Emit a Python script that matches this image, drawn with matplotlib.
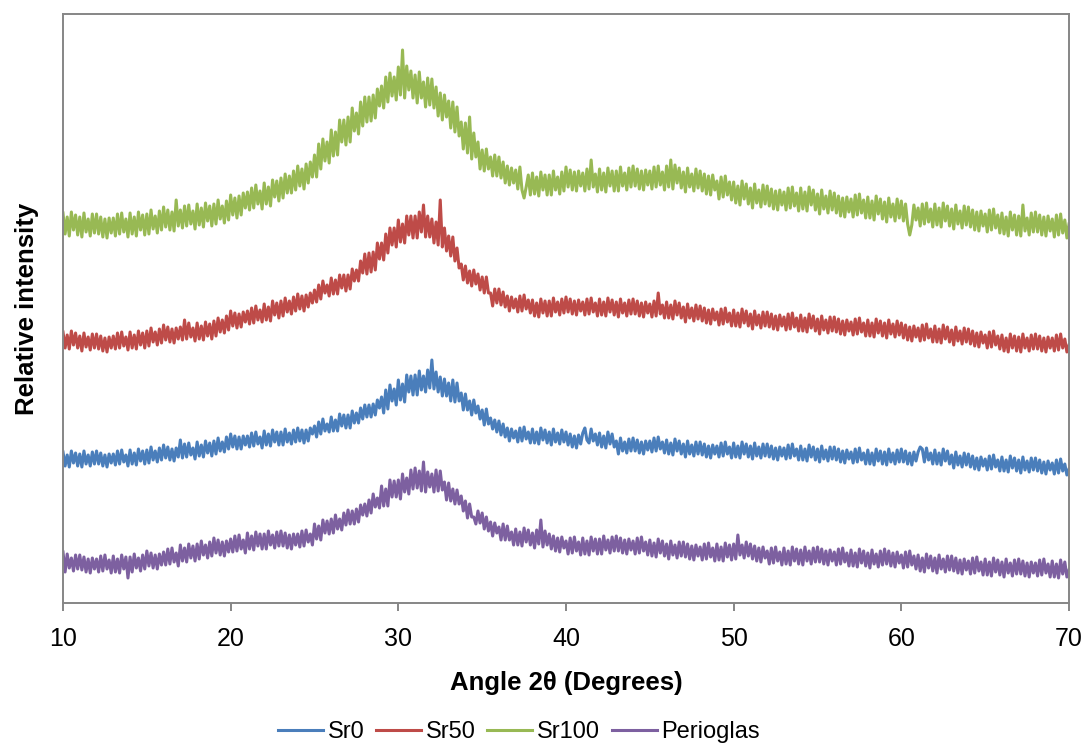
import numpy as np
import matplotlib
matplotlib.use("Agg")
import matplotlib.pyplot as plt

plt.rcParams['font.family'] = ['Liberation Sans', 'DejaVu Sans']

# x grid: 10 to 70 degrees, 0.125 deg step (one row per degree)
angle_start, angle_stop, angle_step = 10.0, 70.0, 0.125

sr100 = [
    390, 369, 386, 367, 391, 373, 388, 368,
    386, 366, 390, 371, 384, 367, 389, 370,
    389, 369, 386, 366, 384, 365, 385, 370,
    385, 367, 389, 369, 390, 371, 384, 366,
    390, 369, 386, 367, 391, 373, 388, 368,
    389, 369, 393, 374, 387, 370, 392, 373,
    396, 376, 393, 373, 391, 372, 403, 377,
    393, 375, 397, 377, 398, 379, 392, 374,
    399, 378, 395, 376, 400, 382, 397, 377,
    399, 379, 403, 384, 397, 380, 402, 383,
    408, 388, 405, 385, 407, 388, 410, 395,
    411, 393, 415, 395, 418, 399, 412, 394,
    420, 399, 416, 397, 423, 406, 422, 402,
    425, 405, 429, 410, 427, 410, 432, 413,
    437, 417, 434, 414, 439, 420, 441, 426,
    448, 426, 459, 434, 464, 442, 461, 440,
    473, 447, 471, 448, 483, 461, 483, 458,
    486, 461, 495, 472, 490, 469, 501, 477,
    506, 481, 506, 482, 508, 485, 514, 497,
    517, 495, 526, 501, 530, 507, 526, 503,
    536, 508, 553, 505, 537, 513, 532, 505,
    528, 500, 531, 505, 521, 496, 525, 498,
    524, 495, 516, 487, 510, 483, 508, 486,
    502, 475, 501, 471, 496, 467, 481, 454,
    480, 450, 486, 444, 470, 446, 461, 434,
    453, 432, 454, 434, 446, 427, 448, 427,
    446, 425, 441, 420, 437, 418, 435, 420,
    433, 414, 436, 413, 405, 416, 428, 408,
    430, 409, 426, 407, 431, 413, 428, 408,
    428, 408, 432, 413, 426, 409, 431, 412,
    436, 416, 433, 413, 431, 412, 432, 417,
    430, 412, 434, 414, 443, 416, 429, 411,
    434, 413, 430, 411, 435, 417, 432, 412,
    432, 412, 436, 417, 430, 413, 435, 416,
    437, 417, 434, 414, 432, 413, 433, 418,
    432, 414, 436, 416, 437, 418, 431, 413,
    437, 416, 443, 414, 438, 420, 435, 415,
    431, 411, 435, 416, 429, 412, 434, 415,
    432, 412, 429, 409, 427, 408, 428, 413,
    422, 404, 426, 406, 427, 408, 421, 403,
    421, 400, 417, 398, 422, 404, 419, 399,
    415, 395, 419, 400, 413, 396, 418, 399,
    417, 397, 414, 394, 412, 393, 413, 398,
    411, 393, 415, 395, 416, 397, 410, 392,
    415, 394, 411, 392, 416, 398, 413, 393,
    409, 389, 413, 394, 407, 390, 412, 393,
    410, 390, 407, 387, 405, 386, 406, 391,
    404, 386, 408, 388, 409, 390, 403, 385,
    406, 385, 402, 383, 407, 389, 404, 384,
    401, 381, 405, 386, 399, 382, 404, 385,
    402, 382, 399, 379, 368, 378, 398, 383,
    395, 377, 399, 379, 400, 381, 394, 376,
    399, 378, 395, 376, 400, 382, 397, 377,
    394, 374, 398, 379, 392, 375, 397, 378,
    396, 376, 393, 373, 391, 372, 392, 377,
    389, 371, 393, 373, 394, 375, 388, 370,
    390, 369, 386, 367, 391, 373, 388, 368,
    387, 367, 398, 372, 385, 368, 390, 371,
    391, 371, 388, 368, 386, 367, 387, 372,
    384, 366, 388, 368, 389, 370, 383, 365,
    379,
]

sr50 = [
    271, 255, 268, 254, 272, 258, 270, 255,
    267, 252, 270, 256, 266, 253, 269, 255,
    269, 254, 267, 252, 265, 251, 266, 255,
    267, 254, 270, 255, 271, 257, 266, 253,
    271, 255, 268, 254, 272, 258, 270, 255,
    272, 257, 275, 261, 271, 258, 274, 260,
    278, 263, 276, 261, 274, 260, 275, 264,
    276, 263, 283, 264, 280, 266, 275, 262,
    280, 264, 277, 263, 281, 267, 279, 264,
    282, 267, 285, 271, 283, 270, 287, 273,
    292, 277, 290, 275, 289, 276, 291, 281,
    292, 279, 295, 280, 297, 283, 293, 281,
    299, 283, 296, 282, 302, 288, 300, 285,
    302, 287, 305, 291, 302, 289, 306, 292,
    309, 294, 307, 292, 308, 296, 310, 300,
    313, 301, 318, 304, 322, 310, 318, 307,
    325, 309, 323, 309, 328, 315, 328, 312,
    328, 314, 334, 322, 333, 322, 342, 330,
    349, 329, 350, 331, 351, 333, 360, 344,
    360, 343, 369, 350, 375, 358, 375, 356,
    383, 361, 379, 360, 387, 368, 387, 365,
    387, 365, 391, 371, 398, 366, 387, 366,
    384, 360, 381, 358, 403, 356, 375, 352,
    367, 347, 366, 342, 355, 335, 339, 323,
    337, 320, 332, 317, 333, 319, 329, 313,
    326, 310, 326, 310, 310, 297, 314, 300,
    314, 298, 311, 296, 307, 292, 306, 295,
    304, 291, 307, 292, 308, 294, 303, 290,
    303, 287, 300, 286, 304, 290, 302, 287,
    302, 287, 305, 291, 301, 288, 304, 290,
    306, 291, 304, 289, 302, 288, 303, 292,
    301, 288, 304, 289, 305, 291, 300, 287,
    304, 288, 301, 287, 305, 291, 303, 288,
    301, 286, 304, 290, 300, 287, 303, 289,
    304, 289, 302, 287, 300, 286, 301, 290,
    299, 286, 302, 287, 310, 289, 298, 285,
    301, 285, 298, 284, 302, 288, 300, 285,
    296, 281, 299, 285, 295, 282, 298, 284,
    297, 282, 295, 280, 293, 279, 294, 283,
    291, 278, 294, 279, 295, 281, 290, 277,
    293, 277, 290, 276, 294, 280, 292, 277,
    289, 274, 292, 278, 288, 275, 291, 277,
    291, 276, 289, 274, 287, 273, 288, 277,
    286, 273, 289, 274, 290, 276, 285, 272,
    288, 272, 285, 271, 289, 275, 287, 272,
    284, 269, 287, 273, 283, 270, 286, 272,
    286, 271, 284, 269, 282, 268, 283, 272,
    281, 268, 284, 269, 285, 271, 280, 267,
    283, 267, 280, 266, 284, 270, 282, 267,
    280, 265, 283, 269, 279, 266, 282, 268,
    280, 265, 278, 263, 276, 262, 277, 266,
    275, 262, 278, 263, 279, 265, 274, 261,
    277, 261, 274, 260, 278, 264, 276, 261,
    273, 258, 276, 262, 272, 259, 275, 261,
    274, 259, 272, 257, 270, 256, 271, 260,
    268, 255, 271, 256, 272, 258, 267, 254,
    268, 252, 265, 251, 269, 255, 267, 252,
    266, 251, 269, 255, 265, 252, 268, 254,
    269, 254, 267, 252, 265, 251, 266, 255,
    265, 252, 268, 253, 269, 255, 264, 251,
    258,
]

sr0 = [
    151, 137, 148, 136, 152, 140, 150, 137,
    149, 136, 152, 139, 148, 137, 151, 139,
    152, 139, 150, 137, 148, 136, 149, 140,
    149, 138, 152, 139, 153, 141, 148, 137,
    153, 139, 150, 138, 154, 142, 152, 139,
    153, 140, 156, 143, 152, 141, 155, 143,
    158, 145, 156, 143, 154, 142, 155, 146,
    163, 145, 159, 146, 160, 148, 155, 144,
    161, 147, 158, 146, 162, 150, 160, 147,
    162, 149, 165, 152, 161, 151, 166, 154,
    169, 156, 167, 154, 166, 154, 167, 158,
    167, 156, 170, 157, 171, 159, 166, 155,
    172, 158, 169, 157, 173, 161, 171, 158,
    171, 158, 174, 161, 170, 159, 173, 161,
    175, 162, 173, 160, 173, 162, 175, 169,
    177, 166, 181, 169, 184, 172, 179, 171,
    186, 172, 183, 172, 189, 177, 188, 175,
    188, 175, 192, 180, 190, 180, 195, 184,
    198, 186, 198, 186, 199, 188, 203, 195,
    206, 190, 213, 194, 218, 202, 214, 198,
    223, 203, 219, 201, 228, 211, 227, 208,
    228, 208, 232, 213, 227, 211, 233, 215,
    243, 214, 231, 211, 226, 207, 224, 207,
    220, 202, 223, 201, 220, 202, 210, 193,
    209, 193, 202, 188, 203, 190, 197, 184,
    193, 178, 194, 179, 185, 174, 183, 171,
    182, 168, 179, 166, 175, 162, 174, 165,
    172, 161, 175, 162, 176, 164, 171, 160,
    174, 160, 171, 159, 175, 163, 173, 160,
    171, 158, 174, 161, 170, 159, 173, 161,
    171, 158, 169, 156, 167, 155, 168, 159,
    170, 175, 163, 160, 174, 162, 169, 158,
    170, 156, 167, 155, 171, 159, 169, 156,
    162, 149, 165, 152, 161, 150, 164, 152,
    165, 152, 163, 150, 161, 149, 162, 153,
    162, 151, 165, 152, 166, 154, 161, 150,
    163, 149, 160, 148, 164, 152, 162, 149,
    159, 146, 162, 149, 158, 147, 161, 149,
    161, 148, 159, 146, 157, 145, 158, 149,
    157, 146, 160, 147, 161, 149, 156, 145,
    160, 146, 157, 145, 161, 149, 159, 146,
    157, 144, 160, 147, 156, 145, 159, 147,
    159, 146, 157, 144, 155, 143, 156, 147,
    155, 144, 158, 145, 159, 147, 154, 143,
    157, 143, 154, 142, 158, 146, 156, 143,
    154, 141, 157, 144, 153, 142, 156, 144,
    156, 143, 154, 141, 152, 140, 153, 144,
    151, 140, 154, 141, 155, 143, 150, 139,
    153, 139, 150, 138, 154, 142, 152, 139,
    151, 138, 154, 141, 150, 139, 153, 141,
    154, 141, 152, 139, 150, 138, 151, 142,
    151, 156, 154, 141, 155, 143, 150, 139,
    153, 139, 150, 138, 154, 142, 152, 139,
    148, 135, 151, 138, 147, 136, 150, 138,
    149, 136, 147, 134, 145, 133, 146, 137,
    144, 133, 147, 134, 148, 136, 143, 132,
    146, 132, 143, 131, 147, 135, 145, 132,
    143, 130, 146, 133, 142, 131, 145, 133,
    145, 132, 143, 130, 141, 129, 142, 133,
    140, 129, 143, 130, 144, 132, 139, 128,
    134,
]

perioglas = [
    51, 31, 49, 35, 45, 32, 48, 34,
    48, 33, 46, 31, 44, 30, 45, 34,
    44, 31, 47, 32, 48, 34, 43, 30,
    47, 31, 44, 30, 48, 34, 46, 25,
    46, 31, 49, 35, 45, 32, 48, 34,
    52, 37, 50, 35, 48, 34, 49, 38,
    51, 38, 54, 39, 55, 41, 50, 37,
    58, 42, 55, 41, 59, 45, 57, 42,
    59, 44, 62, 48, 58, 45, 61, 47,
    65, 50, 63, 48, 61, 47, 62, 51,
    64, 51, 67, 52, 68, 54, 63, 50,
    70, 54, 67, 53, 71, 57, 69, 54,
    69, 54, 72, 58, 68, 55, 71, 57,
    72, 57, 70, 55, 68, 54, 69, 58,
    69, 56, 72, 57, 73, 61, 69, 58,
    79, 64, 77, 63, 83, 70, 82, 69,
    84, 70, 88, 74, 84, 73, 90, 78,
    93, 79, 92, 79, 94, 81, 98, 88,
    99, 87, 103, 90, 109, 96, 105, 95,
    117, 97, 114, 97, 123, 106, 122, 106,
    123, 104, 129, 111, 125, 109, 133, 114,
    135, 115, 132, 112, 141, 111, 131, 116,
    129, 111, 133, 112, 132, 113, 121, 103,
    120, 102, 114, 99, 113, 99, 107, 92,
    102, 85, 99, 86, 86, 79, 92, 80,
    90, 74, 86, 72, 81, 67, 80, 70,
    76, 63, 79, 63, 77, 63, 71, 58,
    74, 58, 71, 57, 75, 61, 73, 58,
    70, 55, 73, 59, 83, 56, 72, 58,
    69, 54, 67, 52, 65, 51, 66, 55,
    62, 49, 65, 50, 66, 52, 61, 48,
    65, 49, 62, 48, 66, 52, 64, 49,
    64, 49, 67, 53, 63, 50, 66, 52,
    67, 52, 65, 50, 63, 49, 64, 53,
    62, 49, 65, 50, 66, 52, 61, 48,
    63, 47, 60, 46, 64, 50, 62, 47,
    59, 44, 62, 48, 58, 45, 61, 47,
    61, 46, 59, 44, 57, 43, 58, 47,
    56, 43, 59, 44, 60, 46, 55, 42,
    59, 43, 56, 42, 60, 46, 58, 43,
    59, 44, 68, 48, 58, 45, 61, 47,
    59, 44, 57, 42, 55, 41, 56, 45,
    52, 39, 55, 40, 56, 42, 51, 38,
    55, 39, 52, 38, 56, 42, 54, 39,
    53, 38, 56, 42, 52, 39, 55, 41,
    56, 41, 54, 39, 52, 38, 53, 42,
    51, 38, 54, 39, 55, 41, 50, 37,
    53, 37, 50, 36, 54, 40, 52, 37,
    50, 35, 53, 39, 49, 36, 52, 38,
    54, 39, 52, 37, 50, 36, 51, 40,
    48, 35, 51, 36, 52, 38, 47, 34,
    48, 32, 45, 31, 49, 35, 47, 32,
    45, 30, 48, 34, 44, 31, 47, 33,
    47, 32, 45, 30, 43, 29, 44, 33,
    42, 29, 45, 30, 46, 32, 41, 28,
    44, 28, 41, 27, 45, 31, 43, 28,
    41, 26, 44, 30, 40, 27, 43, 29,
    44, 29, 42, 27, 40, 26, 41, 30,
    40, 27, 43, 28, 44, 30, 39, 26,
    42, 26, 39, 25, 43, 29, 41, 26,
    33,
]

series_names = ["Sr0", "Sr50", "Sr100", "Perioglas"]
series_colors = ["#4A7EBB", "#BE4B48", "#98B954", "#7D60A0"]
x_ticks = [10, 20, 30, 40, 50, 60, 70]

angles = np.arange(angle_start, angle_stop + angle_step / 2, angle_step)

fig = plt.figure(figsize=(10.86, 7.45), dpi=100)
ax = fig.add_axes([63 / 1086, 1 - 603 / 745, (1069 - 63) / 1086, (603 - 14) / 745])

for name, vals, col in zip(series_names, [sr0, sr50, sr100, perioglas], series_colors):
    ax.plot(angles, vals, color=col, lw=2.2, label=name)

ax.set_xlim(10, 70)
ax.set_ylim(0, 589)
ax.set_xticks(x_ticks)
ax.set_xticklabels([str(t) for t in x_ticks], fontsize=18)
ax.set_yticks([])
for sp in ax.spines.values():
    sp.set_color('#868686')
    sp.set_linewidth(1.4)
ax.tick_params(axis='x', direction='out', length=6, width=1.4, color='#868686', pad=11)

ax.set_xlabel("Angle 2θ (Degrees)", fontsize=18.5, fontweight='bold', labelpad=15)
ax.set_ylabel("Relative intensity", fontsize=18.5, fontweight='bold', labelpad=17)

fig.legend(loc='center left', bbox_to_anchor=(278 / 1086, 1 - 732 / 745), ncol=4,
           frameon=False, fontsize=17, handlelength=1.9, handletextpad=0.2,
           columnspacing=0.5, borderpad=0, borderaxespad=0)

fig.savefig("out.png", dpi=100)
